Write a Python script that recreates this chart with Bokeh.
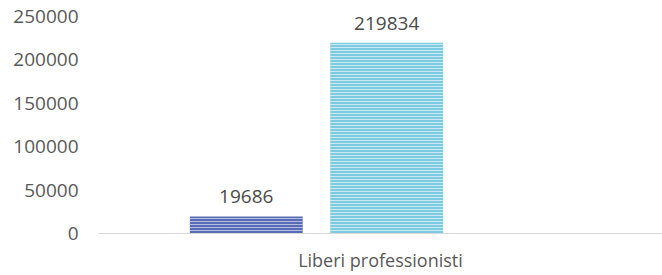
from bokeh.plotting import figure
from bokeh.models import ColumnDataSource, Range1d, FactorRange, FixedTicker, LabelSet, BasicTickFormatter
from bokeh.transform import dodge
from bokeh.core.properties import value
from bokeh.embed import file_html
from bokeh.resources import INLINE

categories = ["Liberi professionisti"]
series_a = [19686]
series_b = [219834]
y_ticks = [0, 50000, 100000, 150000, 200000, 250000]

src_a = ColumnDataSource(dict(cat=categories, val=series_a, lbl=[str(v) for v in series_a]))
src_b = ColumnDataSource(dict(cat=categories, val=series_b, lbl=[str(v) for v in series_b]))

p = figure(width=662, height=274, x_range=FactorRange(*categories, range_padding=0),
           y_range=Range1d(0, 250000), output_backend="svg", toolbar_location=None,
           min_border_left=98, min_border_right=0, min_border_top=16, min_border_bottom=0)
p.outline_line_color = None
p.grid.grid_line_color = None
p.background_fill_color = "white"

FONT = "Open Sans"
GRAY = "#595959"
OFF_A, OFF_B, W = -0.238, 0.011, 0.200

p.vbar(x=dodge("cat", OFF_A, range=p.x_range), top="val", width=W, source=src_a,
       fill_color="#5a6bb5", line_color=None,
       hatch_pattern="horizontal_line", hatch_color="#b4bde4", hatch_scale=3, hatch_weight=1)
p.vbar(x=dodge("cat", OFF_B, range=p.x_range), top="val", width=W, source=src_b,
       fill_color="#7dcbe0", line_color=None,
       hatch_pattern="horizontal_line", hatch_color="#c8eaf3", hatch_scale=3, hatch_weight=1)

for src, off in ((src_a, OFF_A), (src_b, OFF_B)):
    lab = LabelSet(x=dodge("cat", off, range=p.x_range), y="val", text="lbl", source=src,
                   text_align="center", text_baseline="bottom", y_offset=13,
                   text_font=value(FONT), text_font_size="19px", text_color="#4a4a4a")
    p.add_layout(lab)

p.yaxis.ticker = FixedTicker(ticks=y_ticks)
p.yaxis.formatter = BasicTickFormatter(use_scientific=False)
p.yaxis.axis_line_color = None
p.yaxis.major_tick_line_color = None
p.yaxis.minor_tick_line_color = None
p.yaxis.major_tick_out = 0
p.yaxis.major_label_text_font = FONT
p.yaxis.major_label_text_font_size = "19px"
p.yaxis.major_label_text_color = GRAY
p.yaxis.major_label_standoff = 20

p.xaxis.axis_line_color = "#d9d9d9"
p.xaxis.axis_line_width = 1
p.xaxis.major_tick_line_color = None
p.xaxis.minor_tick_line_color = None
p.xaxis.major_tick_out = 0
p.xaxis.major_label_text_font = FONT
p.xaxis.major_label_text_font_size = "18px"
p.xaxis.major_label_text_color = GRAY
p.xaxis.major_label_standoff = 14

open("out.html", "w").write(file_html(p, INLINE))
